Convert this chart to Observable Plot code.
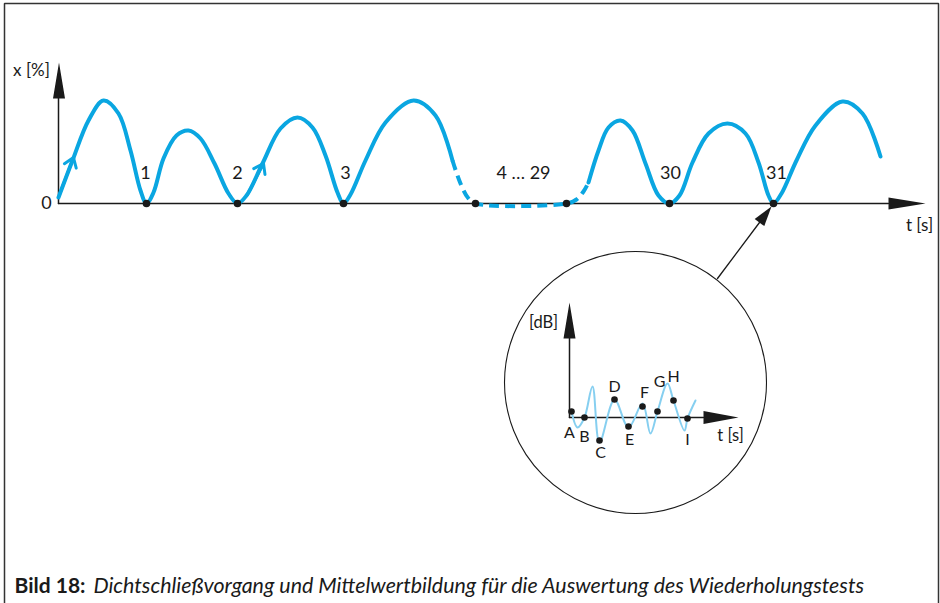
<!DOCTYPE html>
<html>
<head>
<meta charset="utf-8">
<script src="https://cdn.jsdelivr.net/npm/d3@7"></script>
<script src="https://cdn.jsdelivr.net/npm/@observablehq/plot@0.6"></script>
<style>
  html, body { margin: 0; padding: 0; background: #fff; }
  #chart svg { display: block; }
</style>
</head>
<body>
<div id="chart"></div>
<script>
// ---- data (diagram units, origin top-left) ----
const strokeSolidA = [[58,197],[72,160],[88,120],[103,100],[118,113],[130,150],[140,190],[146,203],[153,192],[163,158],[176,135],[188,130],[200,138],[214,163],[228,193],[237,203],[246,195],[262,163],[280,128],[297,117],[312,127],[325,155],[337,192],[343,203],[350,194],[365,160],[385,122],[413,100],[435,115],[452,160]];
const strokeDashed = [[452,160],[460,183],[468,198],[475,203],[566,203],[576,199],[583,191],[588,182]];
const strokeSolidB = [[588,182],[598,150],[608,127],[620,120],[632,130],[645,163],[658,195],[669,203],[679,195],[692,162],[708,133],[727,123],[745,133],[758,162],[768,195],[773,203],[781,193],[796,160],[815,125],[842,101],[862,113],[880,156]];
const closePoints = [146, 237, 343, 475, 566, 669, 773];
const closeLabels = ["1", "2", "3", "4 … 29", "30", "31"];
const closeLabelX = [145, 237, 345, 523, 670, 776];
const flowArrows = [{x1:59, y1:194, x2:73, y2:157}, {x1:247, y1:194, x2:263, y2:163}];

const mainAxisY = [[58,203],[58,98]];
const mainAxisX = [[58,203],[888,203]];
const mainHeadY = [[52.5,98],[58.5,62],[64.5,98]];
const mainHeadX = [[888,197],[925,203],[888,209]];

const zoomCircle = {x:635, y:382, r:131};
const calloutLine = [[717,278],[759,222]];
const calloutHead = [[771,206],[763.8,225.6],[754.2,218.4]];

const dbWave = [[571,411],[577,427],[584,417],[592,386],[599,442],[614,399],[628,427],[642,403],[650,433],[657,411],[667,383],[673,400],[684,430],[687,418],[695,400]];
const dbPoints = [[571,411],[584,417],[599,440],[614,399],[628,426],[642,406],[657,411],[673,400],[687,418]];
const dbLetters = ["A","B","C","D","E","F","G","H","I"];
const dbLetterPos = [[569,432],[584,436],[600,452],[614,386],[629,439],[644,392],[659,381],[673,376],[687,439]];
const dbAxisY = [[569,417],[569,338]];
const dbAxisX = [[569,417],[703,417]];
const dbHeadY = [[563,338],[569,302],[575,338]];
const dbHeadX = [[703,410.5],[738,417],[703,423.5]];

const frameLines = [[4,603],[4,3],[938,3],[938,603]];

const captionBold = "Bild 18:";
const captionItalic = "Dichtschließvorgang und Mittelwertbildung für die Auswertung des Wiederholungstests";

// ---- styles ----
const CYAN = "#0aa6e1";
const LIGHT = "#86cff0";
const INK = "#1a1a1a";
const FONT = "Lato, 'Open Sans', sans-serif";

const px = d => d[0], py = d => d[1];
const labels = closeLabels.map((t, i) => ({t, x: closeLabelX[i], y: 173}));
const letters = dbLetters.map((t, i) => ({t, x: dbLetterPos[i][0], y: dbLetterPos[i][1]}));

const chart = Plot.plot({
  width: 940,
  height: 603,
  margin: 0,
  x: {domain: [0, 940], range: [0, 940], axis: null},
  y: {domain: [0, 603], range: [0, 603], axis: null},
  style: {background: "#fff", overflow: "visible"},
  marks: [
    // frame
    Plot.line(frameLines, {x: px, y: py, stroke: "#333", strokeWidth: 1.5, strokeLinecap: "butt", strokeLinejoin: "miter"}),
    // main axes
    Plot.line(mainAxisY, {x: px, y: py, stroke: INK, strokeWidth: 1.5}),
    Plot.line(mainAxisX, {x: px, y: py, stroke: INK, strokeWidth: 1.5}),
    Plot.line(mainHeadY, {x: px, y: py, fill: INK, stroke: "none"}),
    Plot.line(mainHeadX, {x: px, y: py, fill: INK, stroke: "none"}),
    // curve
    Plot.line(strokeSolidA, {x: px, y: py, stroke: CYAN, strokeWidth: 4, curve: "catmull-rom"}),
    Plot.line(strokeDashed, {x: px, y: py, stroke: CYAN, strokeWidth: 4, curve: "catmull-rom", strokeDasharray: "10,6", strokeLinecap: "butt"}),
    Plot.line(strokeSolidB, {x: px, y: py, stroke: CYAN, strokeWidth: 4, curve: "catmull-rom"}),
    Plot.arrow(flowArrows, {x1: "x1", y1: "y1", x2: "x2", y2: "y2", stroke: CYAN, strokeWidth: 3, headLength: 5.5, headAngle: 70}),
    Plot.dot(closePoints, {x: d => d, y: 203, r: 3.8, fill: INK}),
    Plot.text(labels, {x: "x", y: "y", text: "t", fontSize: 18, fontFamily: FONT, fill: INK}),
    Plot.text(["x [%]"], {x: 31, y: 70, fontSize: 17, fontFamily: FONT, fill: INK}),
    Plot.text(["0"], {x: 46, y: 203, fontSize: 18, fontFamily: FONT, fill: INK}),
    Plot.text(["t [s]"], {x: 919, y: 225, fontSize: 17, fontFamily: FONT, fill: INK}),
    // callout
    Plot.dot([zoomCircle], {x: "x", y: "y", r: zoomCircle.r, fill: "none", stroke: INK, strokeWidth: 1.1}),
    Plot.line(calloutLine, {x: px, y: py, stroke: INK, strokeWidth: 1.3}),
    Plot.line(calloutHead, {x: px, y: py, fill: INK, stroke: "none"}),
    // inner chart
    Plot.line(dbAxisY, {x: px, y: py, stroke: INK, strokeWidth: 1.5}),
    Plot.line(dbAxisX, {x: px, y: py, stroke: INK, strokeWidth: 1.5}),
    Plot.line(dbHeadY, {x: px, y: py, fill: INK, stroke: "none"}),
    Plot.line(dbHeadX, {x: px, y: py, fill: INK, stroke: "none"}),
    Plot.line(dbWave, {x: px, y: py, stroke: LIGHT, strokeWidth: 2, curve: "catmull-rom"}),
    Plot.dot(dbPoints, {x: px, y: py, r: 3.3, fill: INK}),
    Plot.text(letters, {x: "x", y: "y", text: "t", fontSize: 16, fontFamily: FONT, fill: INK}),
    Plot.text(["[dB]"], {x: 543, y: 322, fontSize: 16.5, fontFamily: FONT, fill: INK}),
    Plot.text(["t [s]"], {x: 730, y: 435, fontSize: 16.5, fontFamily: FONT, fill: INK}),
    // caption
    Plot.text([captionBold], {x: 14, y: 586, textAnchor: "start", fontSize: 21, fontWeight: "bold", fontFamily: FONT, fill: INK}),
    Plot.text([captionItalic], {x: 93, y: 586, textAnchor: "start", fontSize: 21.4, fontStyle: "italic", fontFamily: FONT, fill: INK})
  ]
});
document.getElementById("chart").appendChild(chart);
</script>
</body>
</html>
